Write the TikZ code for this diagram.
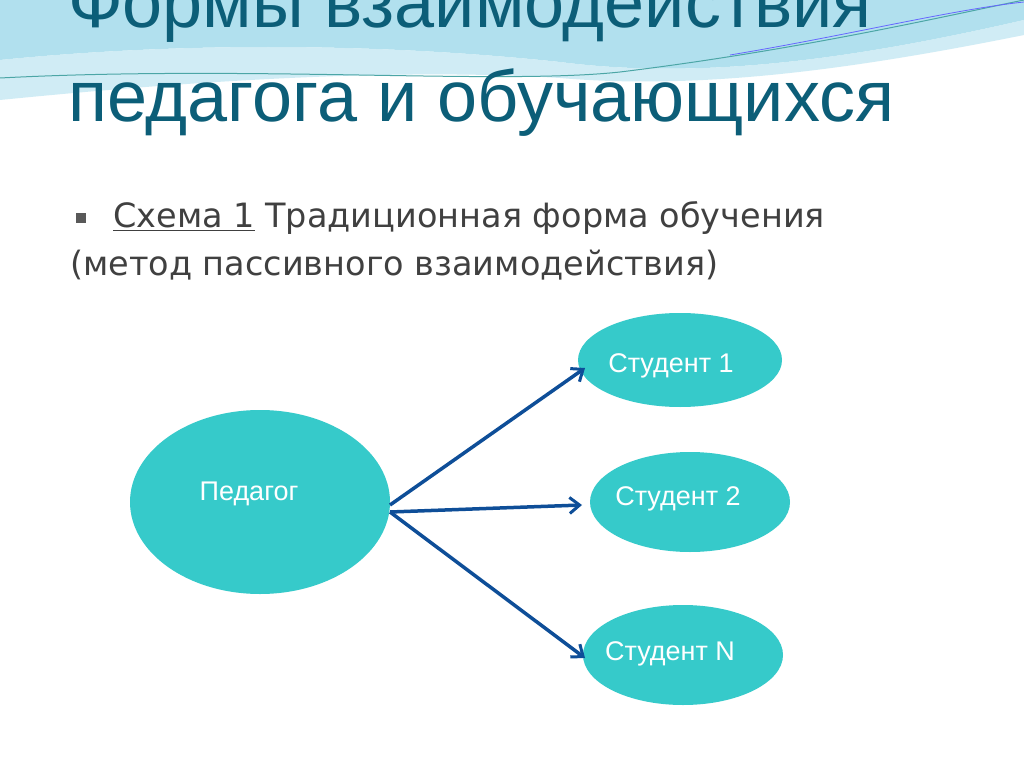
\documentclass[tikz,border=0pt]{standalone}
\usepackage{fontspec}
\setmainfont{Liberation Sans}
\newfontfamily\verd{DejaVu Sans}
\usetikzlibrary{arrows.meta,shapes.geometric}
\definecolor{teal1}{HTML}{36CACA}
\definecolor{titlec}{HTML}{0C5E78}
\definecolor{arr}{HTML}{0E4E98}
\definecolor{wave}{HTML}{9ED9EA}
\tikzset{blob/.style={ellipse,fill=teal1,draw=none,inner sep=0pt},
 lab/.style={text=white,font=\fontsize{27}{30}\selectfont},
 conn/.style={draw=arr,line width=3.5pt,-{Straight Barb[length=10pt,width=16pt,line width=3pt]}}}
\begin{document}
\begin{tikzpicture}[x=1pt,y=-1pt]
\useasboundingbox (0,0) rectangle (1024,767);
\fill[white] (0,0) rectangle (1024,767);
% waves
\fill[wave,opacity=0.8] (0,0) -- (1024,0) -- (1024,20) .. controls (850,60) and (700,80) .. (560,62) .. controls (400,45) and (200,40) .. (0,60) -- cycle;
\fill[wave!60,opacity=0.8] (0,60) .. controls (200,40) and (400,45) .. (560,62) .. controls (700,80) and (850,60) .. (1024,20) -- (1024,35) .. controls (850,70) and (700,90) .. (560,78) .. controls (400,68) and (200,80) .. (0,100) -- cycle;
\draw[teal!70,line width=1pt] (0,78) .. controls (250,65) and (500,85) .. (620,72) .. controls (800,50) and (950,15) .. (1024,0);
\draw[blue!60,line width=0.8pt] (730,55) .. controls (850,35) and (950,10) .. (1024,2);
% title
\node[anchor=base west,text=titlec,font=\fontsize{72}{80}\selectfont,inner sep=0pt] (t1) at (68,28) {Формы взаимодействия};
\node[anchor=base west,text=titlec,font=\fontsize{72}{80}\selectfont,inner sep=0pt] (t2) at (68,122) {педагога и обучающихся};
% bullet
\fill[gray!70!black] (76,213) rectangle (86,223);
\node[anchor=base west,text=black!75,font=\verd\fontsize{33.5}{38}\selectfont,inner sep=0pt] (b1) at (113,228) {\underline{Схема 1} Традиционная форма обучения};
\node[anchor=base west,text=black!75,font=\verd\fontsize{33.5}{38}\selectfont,inner sep=0pt] (b2) at (70,275) {(метод пассивного взаимодействия)};
% nodes
\node[blob,minimum width=260pt,minimum height=184pt] (p) at (260,502) {};
\node[blob,minimum width=204pt,minimum height=94pt] (s1) at (680,360) {};
\node[blob,minimum width=200pt,minimum height=100pt] (s2) at (690,502) {};
\node[blob,minimum width=200pt,minimum height=100pt] (sn) at (683,655) {};
\node[lab] at (249,494) {Педагог};
\node[lab] at (671,366) {Студент 1};
\node[lab] at (678,499) {Студент 2};
\node[lab] at (670,654) {Студент N};
\coordinate (o1) at (390,505);
\coordinate (o2) at (390,512);
\coordinate (e1) at (585,368);
\coordinate (e2) at (582,505);
\coordinate (e3) at (585,658);
\draw[conn] (o1) -- (e1);
\draw[conn] (o2) -- (e2);
\draw[conn] (o2) -- (e3);
\end{tikzpicture}
\end{document}
